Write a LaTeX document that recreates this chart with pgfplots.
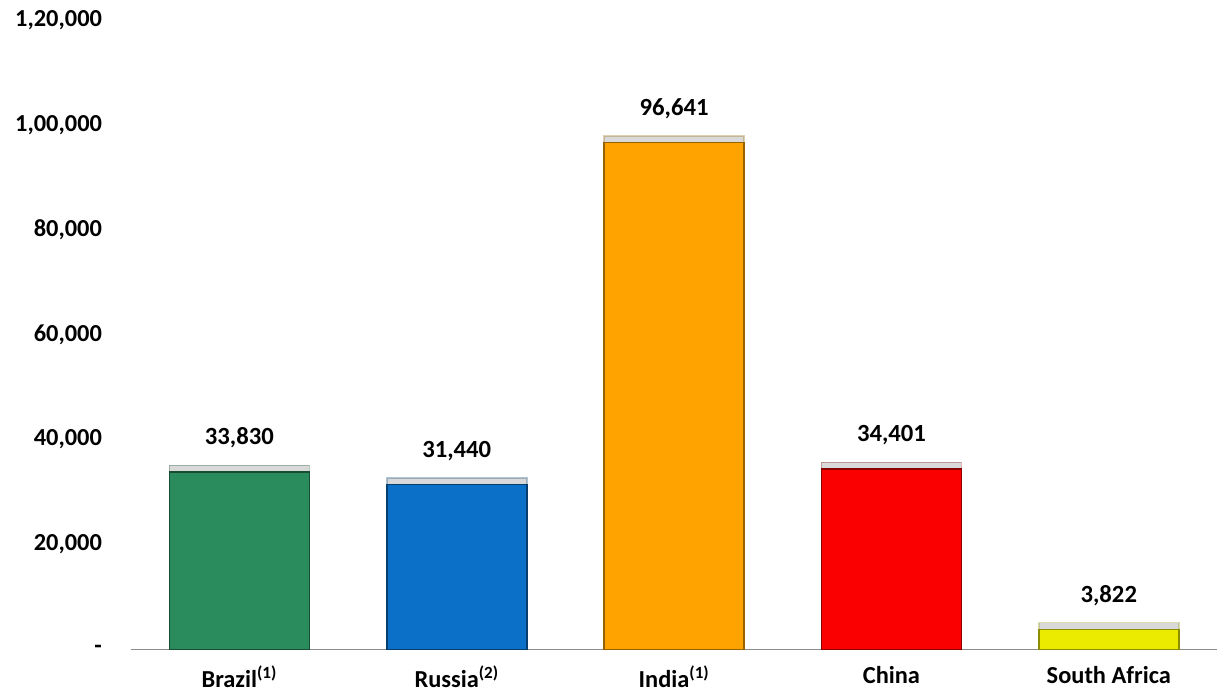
\documentclass[border=0pt]{standalone}
\usepackage{pgfplots}
\pgfplotsset{compat=1.18}
\usepackage{fontspec}
\setmainfont{Carlito}
\usetikzlibrary{shadows}
\definecolor{cBrazil}{RGB}{42,140,92}
\definecolor{cRussia}{RGB}{10,112,200}
\definecolor{cIndia}{RGB}{255,163,0}
\definecolor{cChina}{RGB}{250,0,0}
\definecolor{cSA}{RGB}{235,235,0}
\begin{document}
\begin{tikzpicture}
\begin{axis}[
  name=main,
  scale only axis,
  width=815pt, height=472pt,
  ybar, bar width=105pt,
  xmin=-0.5, xmax=4.5,
  ymin=0, ymax=120000,
  scaled y ticks=false,
  xtick={0,1,2,3,4},
  xticklabels={Brazil\textsuperscript{(1)},Russia\textsuperscript{(2)},India\textsuperscript{(1)},China,South Africa},
  ytick={0,20000,40000,60000,80000,100000,120000},
  yticklabels={-,{20,000},{40,000},{60,000},{80,000},{1,00,000},{1,20,000}},
  axis x line*=bottom, axis y line*=left,
  y axis line style={draw=none},
  x axis line style={draw=black!45, line width=0.8pt, -},
  major tick length=0pt,
  tick label style={font=\fontsize{18.3}{21}\selectfont\bfseries},
  yticklabel style={xshift=-18pt},
  xticklabel style={yshift=-9pt},
  nodes near coords,
  nodes near coords style={font=\fontsize{18.5}{21}\selectfont\bfseries, yshift=14pt},
  /pgf/number format/.cd, fixed, precision=0, 1000 sep={,}, assume math mode=true,
  /pgfplots/.cd,
  every axis plot/.append style={bar shift=0pt, drop shadow={shadow xshift=0pt, shadow yshift=5pt, opacity=0.3}},
]
\addplot[fill=cBrazil, draw=cBrazil!55!black, line width=1.2pt] coordinates {(0,33830)};
\addplot[fill=cRussia, draw=cRussia!55!black, line width=1.2pt] coordinates {(1,31440)};
\addplot[fill=cIndia, draw=cIndia!60!black, line width=1.2pt] coordinates {(2,96641)};
\addplot[fill=cChina, draw=cChina!55!black, line width=1.2pt] coordinates {(3,34401)};
\addplot[fill=cSA, draw=cSA!60!black, line width=1.2pt] coordinates {(4,3822)};
\end{axis}
\path ([yshift=15pt]main.north west) -- ([xshift=-98pt]main.west);
\end{tikzpicture}
\end{document}
